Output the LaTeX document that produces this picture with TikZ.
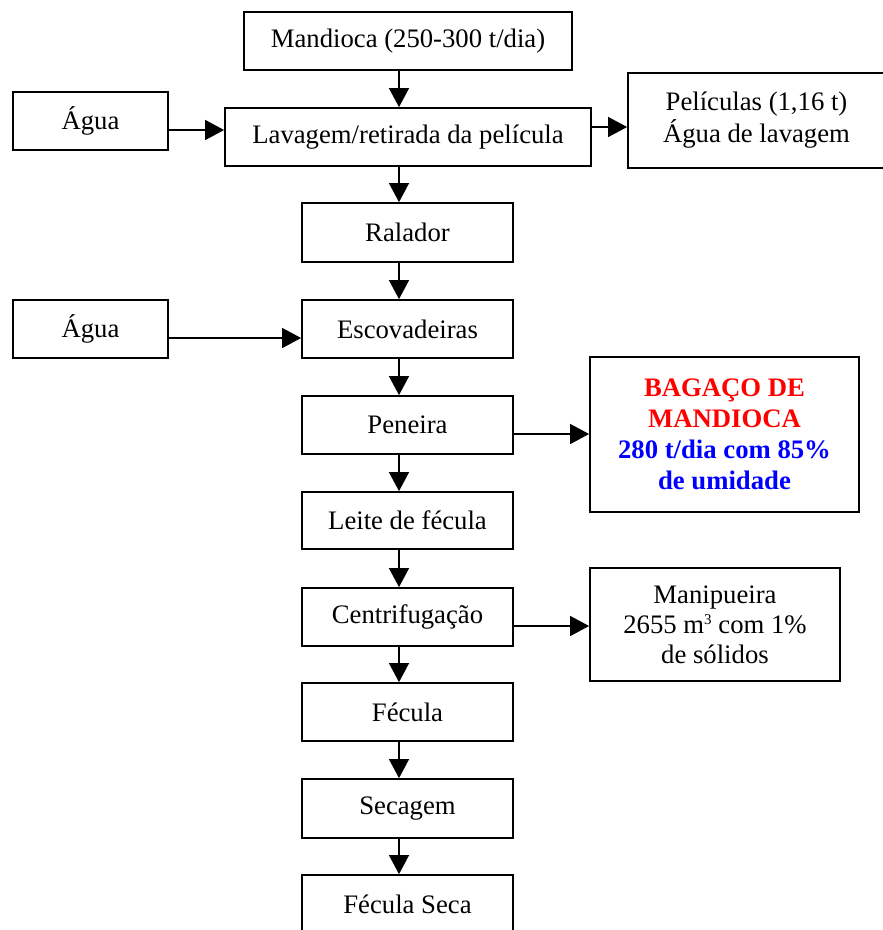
\documentclass[tikz,border=0pt]{standalone}
\usepackage{fontspec}
\setmainfont{Liberation Serif}
\usetikzlibrary{arrows.meta}
\definecolor{bagred}{RGB}{255,0,0}
\definecolor{bagblue}{RGB}{0,0,255}
\newcommand{\cubed}{\raisebox{9pt}{\fontsize{15}{15}\selectfont 3}}
\begin{document}
\begin{tikzpicture}[x=1pt,y=-1pt,
  box/.style={draw=black,line width=1.8pt,fill=white,inner sep=0pt,align=center,
    font=\fontsize{26.7}{31}\selectfont},
  colbox/.style={box,minimum width=211pt},
  arr/.style={line width=1.4pt,-{Triangle[length=19pt,width=20pt]}}]
\useasboundingbox (0,0) rectangle (883,930);
\clip (0,0) rectangle (883,930);
\fill[white] (0,0) rectangle (883,930);

% main column axis for the vertical connectors
\coordinate (axis) at (399,0);

% process boxes
\node[box,minimum width=328pt,minimum height=58pt] (mand) at (408,41) {Mandioca (250-300 t/dia)};
\node[box,minimum width=155pt,minimum height=58pt] (agua1) at (90.5,121) {Água};
\node[box,minimum width=366pt,minimum height=58pt] (lav) at (408,137) {Lavagem/retirada da película};
\node[box,minimum width=257pt,minimum height=95pt] (pel) at (756.5,120.5)
  {\raisebox{6pt}{\begin{tabular}{@{}c@{}}Películas (1,16 t)\\Água de lavagem\end{tabular}}};
\node[colbox,minimum height=59pt] (ral) at (407.5,232.5) {Ralador};
\node[box,minimum width=155pt,minimum height=58pt] (agua2) at (90.5,329) {Água};
\node[colbox,minimum height=58pt] (esc) at (407.5,329) {Escovadeiras};
\node[colbox,minimum height=58pt] (pen) at (407.5,425) {Peneira};
\node[box,minimum width=269pt,minimum height=155pt,font=\fontsize{26.7}{31}\selectfont\bfseries] (bag) at (724.5,434.5)
  {\textcolor{bagred}{BAGAÇO DE}\\\textcolor{bagred}{MANDIOCA}\\\textcolor{bagblue}{280 t/dia com 85\%}\\\textcolor{bagblue}{de umidade}};
\node[colbox,minimum height=57pt] (leite) at (407.5,520.5) {Leite de fécula};
\node[colbox,minimum height=58pt] (cent) at (407.5,617) {Centrifugação};
\node[box,minimum width=250pt,minimum height=113pt,font=\fontsize{26.7}{30}\selectfont] (manip) at (715,624.5)
  {Manipueira\\2655 m\cubed\ com 1\%\\de sólidos};
\node[colbox,minimum height=58pt] (fec) at (407.5,712) {Fécula};
\node[colbox,minimum height=59pt] (sec) at (407.5,808.5) {Secagem};
\node[colbox,minimum height=59pt] (fseca) at (407.5,904.5) {Fécula Seca};

% rows of the horizontal connectors
\coordinate (r1) at (0,130);
\coordinate (r2) at (0,127);
\coordinate (r3) at (0,338);
\coordinate (r4) at (0,434);
\coordinate (r5) at (0,626);

% vertical flow
\draw[arr] (mand.south -| axis) -- (lav.north -| axis);
\draw[arr] (lav.south -| axis) -- (ral.north -| axis);
\draw[arr] (ral.south -| axis) -- (esc.north -| axis);
\draw[arr] (esc.south -| axis) -- (pen.north -| axis);
\draw[arr] (pen.south -| axis) -- (leite.north -| axis);
\draw[arr] (leite.south -| axis) -- (cent.north -| axis);
\draw[arr] (cent.south -| axis) -- (fec.north -| axis);
\draw[arr] (fec.south -| axis) -- (sec.north -| axis);
\draw[arr] (sec.south -| axis) -- (fseca.north -| axis);

% inputs and outputs
\draw[arr] (agua1.east |- r1) -- (lav.west |- r1);
\draw[arr] (lav.east |- r2) -- (pel.west |- r2);
\draw[arr] (agua2.east |- r3) -- (esc.west |- r3);
\draw[arr] (pen.east |- r4) -- (bag.west |- r4);
\draw[arr] (cent.east |- r5) -- (manip.west |- r5);
\end{tikzpicture}
\end{document}
